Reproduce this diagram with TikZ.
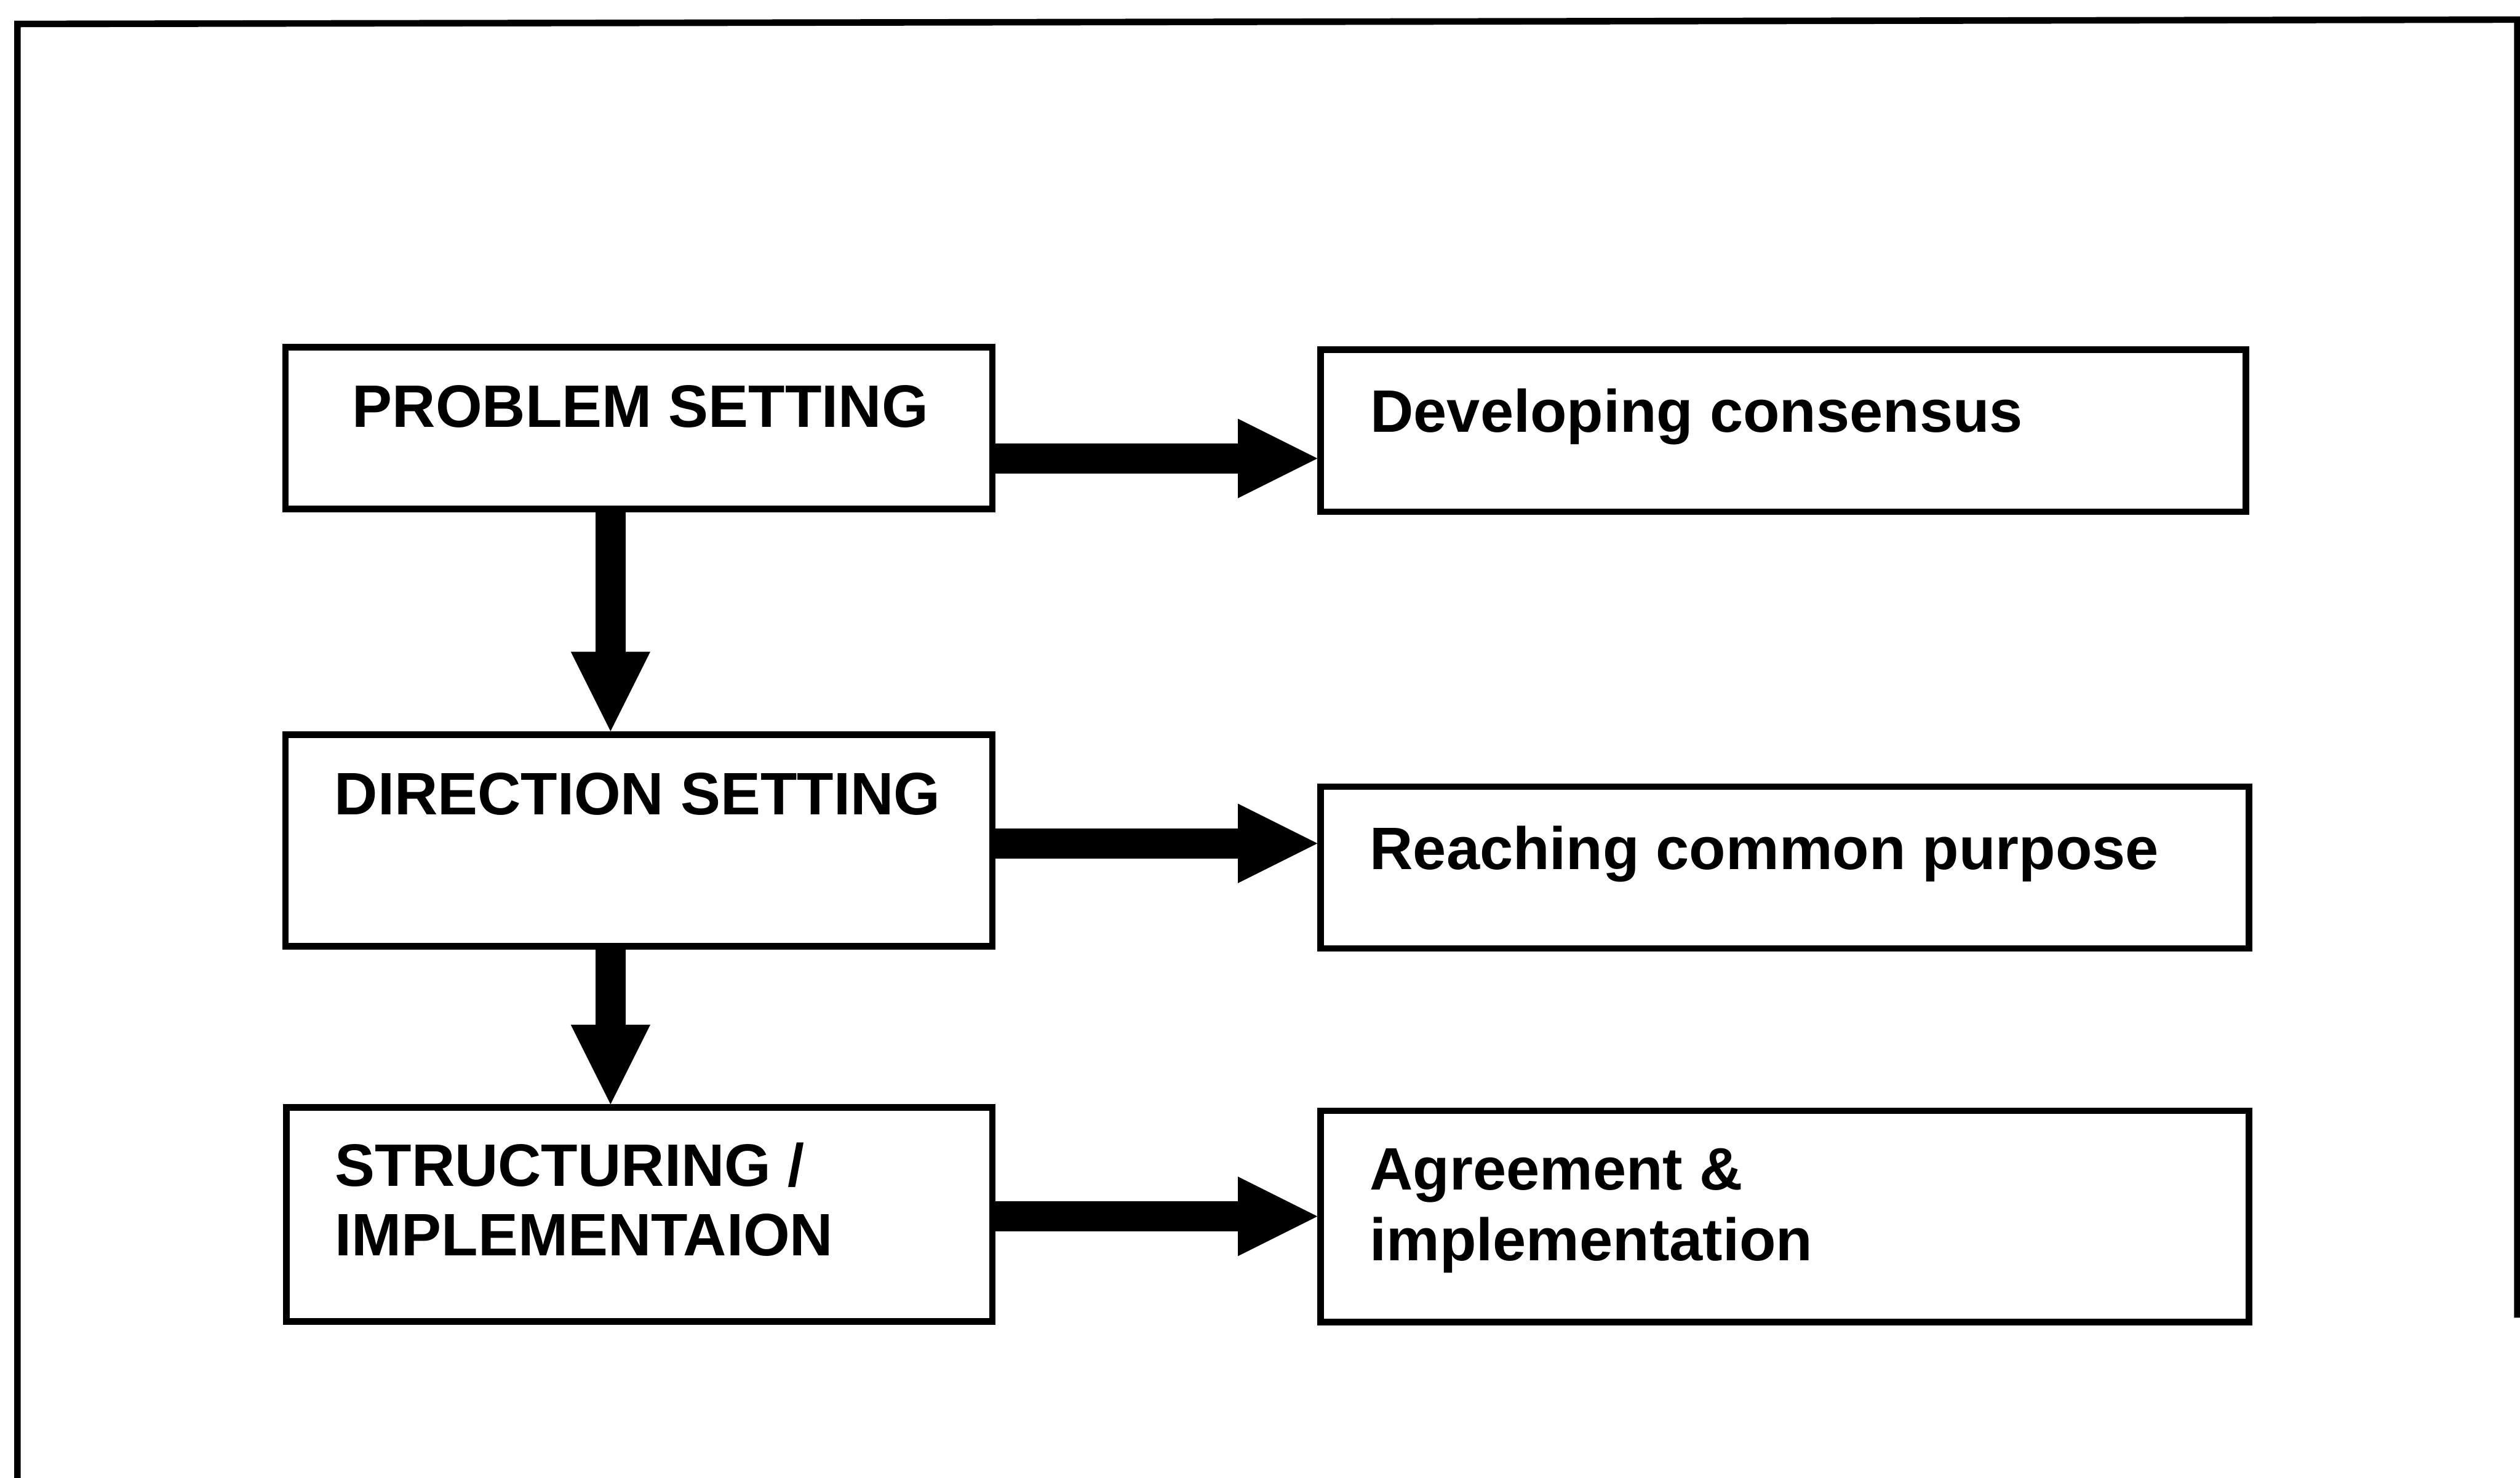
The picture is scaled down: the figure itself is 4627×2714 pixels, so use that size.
\documentclass[tikz,border=0pt]{standalone}
\usepackage{fontspec}
\setmainfont{Liberation Sans}
\usetikzlibrary{arrows.meta}
\begin{document}
\begin{tikzpicture}[x=1pt,y=-1pt,
  boxstyle/.style={draw=black,line width=12pt,rectangle,inner sep=0pt,fill=white},
  txt/.style={inner sep=0pt,anchor=base west,font=\fontsize{110}{128}\selectfont\bfseries},
  bigarrow/.style={line width=55pt,-{Triangle[width=146pt,length=146pt,line width=0pt]}}]
\useasboundingbox (0,0) rectangle (4627,2714);
\fill[white] (0,0) rectangle (4627,2714);
% outer frame
\draw[line width=12pt,line join=miter] (32,2730) -- (32,44) -- (4622,36) -- (4622,2420);
% left boxes
\node[boxstyle,minimum width=1298pt,minimum height=297pt] (pb) at (1173,786.5) {};
\node[boxstyle,minimum width=1298pt,minimum height=389pt] (ds) at (1173,1543.5) {};
\node[boxstyle,minimum width=1296pt,minimum height=393pt] (st) at (1174,2230.5) {};
% right boxes
\node[boxstyle,minimum width=1699pt,minimum height=298pt] (dc) at (3274.5,791) {};
\node[boxstyle,minimum width=1704pt,minimum height=297pt] (rc) at (3277,1593.5) {};
\node[boxstyle,minimum width=1704pt,minimum height=388pt] (ag) at (3277,2234) {};
% texts
\node[txt] (tpb) at (647,785) {PROBLEM SETTING};
\node[txt] (tds) at (614,1496) {DIRECTION SETTING};
\node[txt] (tst1) at (615,2178) {STRUCTURING /};
\node[txt] (tst2) at (615,2306) {IMPLEMENTAION};
\node[txt] (tdc) at (2516,793) {Developing consensus};
\node[txt] (trc) at (2515,1597) {Reaching common purpose};
\node[txt] (tag1) at (2515,2185) {Agreement \&};
\node[txt] (tag2) at (2515,2315) {implementation};
% arrow guide coordinates
\coordinate (h1) at (0,842);
\coordinate (h2) at (0,1549);
\coordinate (h3) at (0,2234);
\coordinate (vx) at (1121,0);
% connectors
\draw[bigarrow] (pb.east |- h1) -- (dc.west |- h1);
\draw[bigarrow] (ds.east |- h2) -- (rc.west |- h2);
\draw[bigarrow] (st.east |- h3) -- (ag.west |- h3);
\draw[bigarrow] (pb.south -| vx) -- (ds.north -| vx);
\draw[bigarrow] (ds.south -| vx) -- (st.north -| vx);
\end{tikzpicture}
\end{document}
